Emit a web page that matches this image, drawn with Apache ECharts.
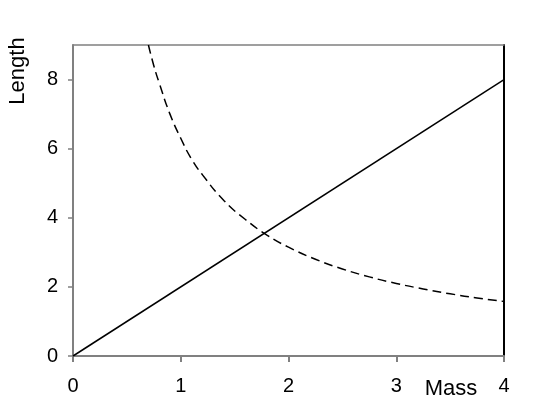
<!DOCTYPE html>
<html>
<head>
<meta charset="utf-8">
<script src="https://cdn.jsdelivr.net/npm/echarts@6/dist/echarts.min.js"></script>
<style>
  html, body { margin: 0; padding: 0; background: #fff; }
  #chart { width: 545px; height: 406px; }
</style>
</head>
<body>
<div id="chart"></div>
<script>
// solid line: Length against Mass
const lineMass = [0, 4];
const lineLength = [0, 8];

// dashed curve
const curveMass = [0.7, 0.75, 0.8, 0.9, 1.0, 1.1, 1.2, 1.4, 1.6, 1.8, 2.0, 2.25, 2.5, 2.75, 3.0, 3.25, 3.5, 3.75, 4.0];
const curveLength = [9.0, 8.4, 7.9, 7.0, 6.3, 5.7, 5.25, 4.5, 3.95, 3.5, 3.15, 2.8, 2.52, 2.29, 2.1, 1.94, 1.8, 1.68, 1.58];

const xTicks = [0, 1, 2, 3, 4];
const yTicks = [0, 2, 4, 6, 8];

const chart = echarts.init(document.getElementById('chart'));
const font = 'Liberation Sans, Arial, sans-serif';

const option = {
  animation: false,
  grid: { left: 73, right: 41, top: 45, bottom: 50, containLabel: false },
  xAxis: [
    {
      type: 'value', min: 0, max: 4, interval: 1,
      splitLine: { show: false },
      axisLine: { onZero: false, lineStyle: { color: '#808080', width: 2 } },
      axisTick: { show: true, length: 6, lineStyle: { color: '#808080', width: 2 }, customValues: xTicks },
      axisLabel: { color: '#000', fontSize: 20, fontFamily: font, margin: 20, customValues: xTicks }
    },
    {
      type: 'value', position: 'top', min: 0, max: 4,
      splitLine: { show: false },
      axisLine: { show: true, onZero: false, lineStyle: { color: '#808080', width: 1.5 } },
      axisTick: { show: false }, axisLabel: { show: false }
    }
  ],
  yAxis: [
    {
      type: 'value', min: 0, max: 9, interval: 1,
      splitLine: { show: false },
      axisLine: { show: true, onZero: false, lineStyle: { color: '#808080', width: 2 } },
      axisTick: { show: true, length: 5, lineStyle: { color: '#808080', width: 1.5 }, customValues: yTicks },
      axisLabel: { color: '#000', fontSize: 20, fontFamily: font, margin: 15, customValues: yTicks }
    },
    {
      type: 'value', position: 'right', min: 0, max: 9,
      splitLine: { show: false },
      axisLine: { show: true, onZero: false, lineStyle: { color: '#000', width: 2 } },
      axisTick: { show: false }, axisLabel: { show: false }
    }
  ],
  graphic: [
    {
      type: 'text', x: 18, y: 71, rotation: Math.PI / 2,
      style: { text: 'Length', fill: '#000', font: '22px ' + font, align: 'center', verticalAlign: 'middle' }
    },
    {
      type: 'text', x: 451, y: 389,
      style: { text: 'Mass', fill: '#000', font: '22px ' + font, align: 'center', verticalAlign: 'middle' }
    }
  ],
  series: [
    {
      type: 'line',
      data: lineMass.map((m, i) => [m, lineLength[i]]),
      showSymbol: false,
      lineStyle: { color: '#000', width: 1.5 }
    },
    {
      type: 'line',
      data: curveMass.map((m, i) => [m, curveLength[i]]),
      smooth: true,
      showSymbol: false,
      lineStyle: { color: '#000', width: 1.5, type: [9, 5] }
    }
  ]
};

chart.setOption(option);
</script>
</body>
</html>
